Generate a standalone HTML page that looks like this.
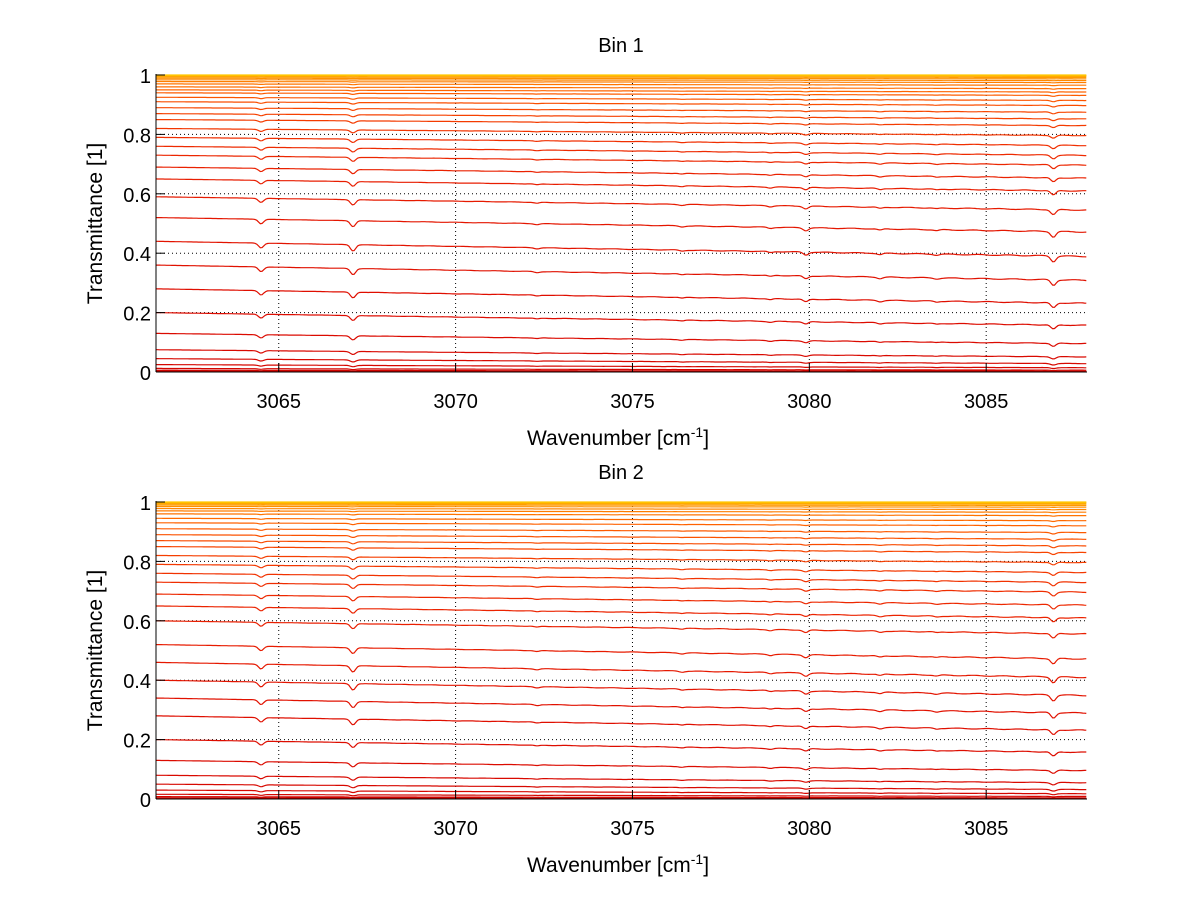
<!DOCTYPE html>
<html><head><meta charset="utf-8"><style>
html,body{margin:0;padding:0;background:#fff;}
svg{display:block;font-family:"Liberation Sans",sans-serif;}
</style></head><body>
<svg id="chart" width="1200" height="901" viewBox="0 0 1200 901" xmlns="http://www.w3.org/2000/svg"></svg>
<script>
const xTicks = [3065, 3070, 3075, 3080, 3085];
const yTicks = [0, 0.2, 0.4, 0.6, 0.8, 1];
const yTickLabels = ["0", "0.2", "0.4", "0.6", "0.8", "1"];
const panelTitles = ["Bin 1", "Bin 2"];
const levelsBin1 = [0.001,0.003,0.006,0.012,0.025,0.045,0.075,0.13,0.20,0.28,0.36,0.44,0.52,0.59,0.65,0.69,0.73,0.76,0.79,0.82,0.85,0.87,0.89,0.91,0.925,0.94,0.95,0.96,0.97,0.978,0.984,0.989,0.993,0.996,0.998,0.999,1.0];
const levelsBin2 = [0.001,0.004,0.008,0.016,0.03,0.05,0.08,0.13,0.20,0.28,0.34,0.40,0.46,0.52,0.60,0.65,0.69,0.73,0.76,0.79,0.82,0.85,0.87,0.89,0.91,0.93,0.945,0.96,0.97,0.978,0.985,0.99,0.994,0.997,0.999,1.0];
const lineCenters = [3064.5, 3067.1, 3072.3, 3076.4, 3078.9, 3079.9, 3082.0, 3083.6, 3086.9];
const lineDepths = [0.045, 0.06, 0.01, 0.01, 0.012, 0.03, 0.015, 0.01, 0.06];
const tiltAbs = [0.0, 0.15];  // extra relative absorbance left -> right

const svg = document.getElementById('chart');
const NS = 'http://www.w3.org/2000/svg';
const X0 = 3061.53, X1 = 3087.85, PX0 = 156, PX1 = 1087;
function sx(v){ return PX0 + (v - X0) / (X1 - X0) * (PX1 - PX0); }
function mk(tag, attrs, parent){ const e = document.createElementNS(NS, tag); for (const k in attrs) e.setAttribute(k, attrs[k]); (parent||svg).appendChild(e); return e; }
function absShape(x){
  let a = tiltAbs[0] + (tiltAbs[1]-tiltAbs[0])*(x-X0)/(X1-X0);
  for (let i=0;i<lineCenters.length;i++){ const d=(x-lineCenters[i])/0.1; a += lineDepths[i]*Math.exp(-d*d); }
  return a;
}
function color(t){
  const r = Math.round(205 + 50*Math.min(1,t*1.4));
  const g = Math.round(5 + 195*Math.pow(t,2.2));
  return `rgb(${r},${g},0)`;
}
function panel(idx, top, levels){
  const Y0 = top + 297, Y1 = top;
  const sy = v => Y0 - v*(Y0-Y1);
  const g = mk('g', {});
  
  
  xTicks.forEach(t => { const l = mk('line',{x1:sx(t),x2:sx(t),y1:Y1,y2:Y0,stroke:'#000','stroke-width':1,'stroke-dasharray':'1,3'},g);   });
  yTicks.forEach(t => { const l = mk('line',{x1:PX0,x2:PX1,y1:sy(t),y2:sy(t),stroke:'#000','stroke-width':1,'stroke-dasharray':'1,3'},g);   });
  levels.forEach((L, i) => {
    let d = '';
    for (let x = X0; x <= X1 + 1e-9; x += 0.05){
      const wob = 1 + 0.03*Math.sin(x*7.3 + i);
      const T = Math.pow(Math.max(L,1e-4), 1 + absShape(x)*wob);
      d += (d ? 'L' : 'M') + sx(x).toFixed(1) + ',' + sy(T).toFixed(1);
    }
    const p = mk('path',{d:d,fill:'none',stroke:color(i/(levels.length-1)),'stroke-width':1.2},g);
    
    
  });
  const ax = mk('line',{x1:PX0,x2:PX1,y1:Y0,y2:Y0,stroke:'#000','stroke-width':1},g);
   
  const ay = mk('line',{x1:PX0,x2:PX0,y1:Y1-1,y2:Y0,stroke:'#000','stroke-width':1},g);
   
  xTicks.forEach(t => {
    mk('line',{x1:sx(t),x2:sx(t),y1:Y0,y2:Y0-9,stroke:'#000'},g);
    const tx = mk('text',{x:sx(t),y:Y0+36,'font-size':20,'text-anchor':'middle'},g);
    tx.textContent = t;
     
  });
  yTicks.forEach((t, k) => {
    mk('line',{x1:PX0,x2:PX0+9,y1:sy(t),y2:sy(t),stroke:'#000'},g);
    const tx = mk('text',{x:PX0-5,y:sy(t)+8,'font-size':20,'text-anchor':'end'},g);
    tx.textContent = yTickLabels[k];
     
  });
  const title = mk('text',{x:621,y:top-23,'font-size':20,'text-anchor':'middle'},g);
  title.textContent = panelTitles[idx];
   
  const xl = mk('text',{x:618,y:Y0+73,'font-size':21,'text-anchor':'middle'},g);
  xl.innerHTML = 'Wavenumber [cm<tspan dy="-8" font-size="14">-1</tspan><tspan dy="8">]</tspan>';
   
  const yl = mk('text',{x:0,y:0,'font-size':21,'text-anchor':'middle',transform:`translate(102,${(Y0+Y1)/2}) rotate(-90)`},g);
  yl.textContent = 'Transmittance [1]';
   
}
panel(0, 75, levelsBin1);
panel(1, 502, levelsBin2);
</script>
</body></html>
